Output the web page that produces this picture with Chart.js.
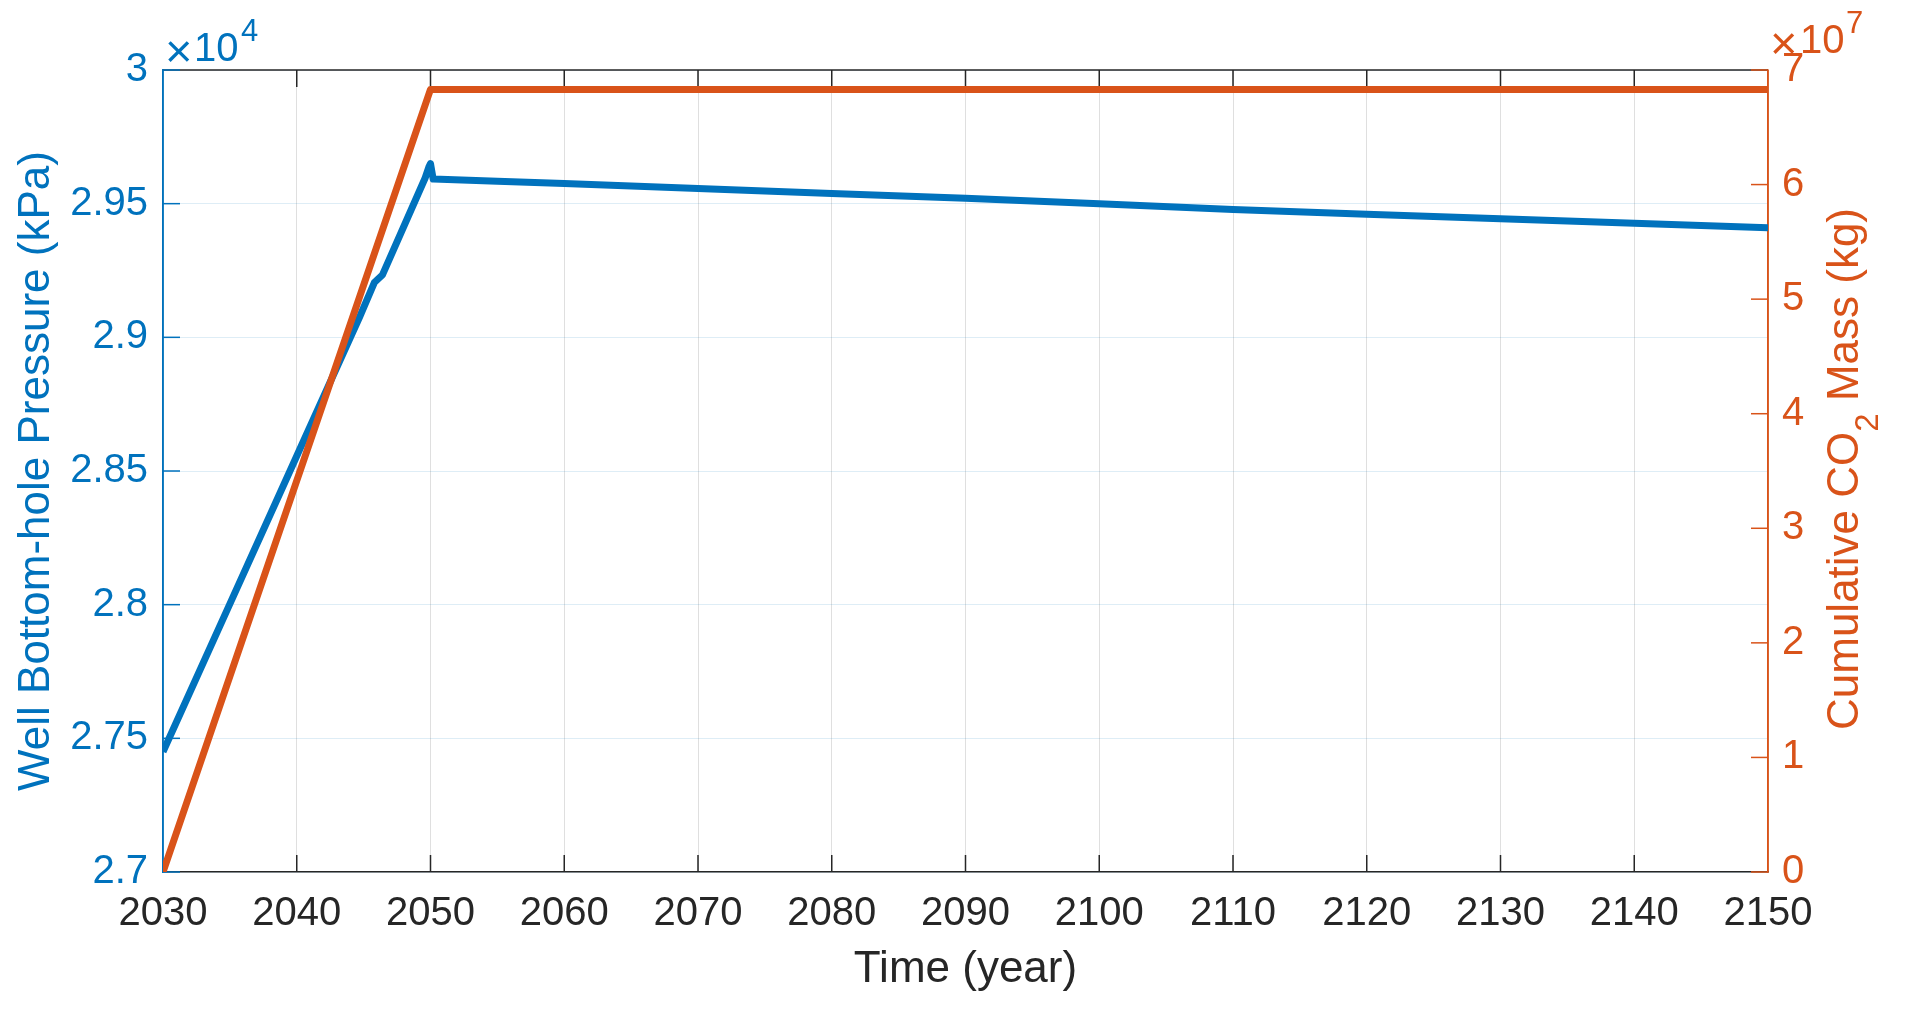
<!DOCTYPE html>
<html>
<head>
<meta charset="utf-8">
<title>Well Bottom-hole Pressure y Cumulative CO2 Mass</title>
<script src="https://cdn.jsdelivr.net/npm/chart.js@4.4.1/dist/chart.umd.min.js"></script>
<style>
    html, body { margin: 0; padding: 0; background: #fff; }
    #contenedor { width: 1908px; height: 1010px; position: relative; }
</style>
</head>
<body>
<div id="contenedor"><canvas id="miGrafico"></canvas></div>
<script>
// Datos
const pressureYears = [2030, 2035, 2040, 2044.7, 2045.8, 2046.4, 2049.6, 2049.9, 2050.0, 2050.2, 2055, 2060, 2070, 2080, 2090, 2100, 2110, 2120, 2130, 2140, 2150];
const pressureKPa = [27450, 28003, 28556, 29076, 29205, 29233, 29596, 29640, 29650, 29592, 29584, 29575, 29557, 29538, 29520, 29500, 29478, 29460, 29444, 29427, 29410];
const massYears = [2030, 2050, 2150];
const massKg = [0, 6.83e7, 6.83e7];

// Límites de los ejes
const xLimits = [2030, 2150];
const pressureLimits = [27000, 30000];
const massLimits = [0, 7e7];

const AZUL = '#0072BD';
const NARANJA = '#D95319';
const NEGRO = '#262626';
const FUENTE = '"Liberation Sans", Arial, sans-serif';

document.addEventListener('DOMContentLoaded', function() {
    initChart();
});

function toPoints(xs, ys) {
    return xs.map((x, i) => ({ x: x, y: ys[i] }));
}

// Ejes al estilo MATLAB: caja, marcas hacia dentro, exponentes
const ejesMatlab = {
    id: 'ejesMatlab',
    beforeDatasetsDraw(chart) {
        const { ctx, chartArea: a, scales } = chart;
        const largo = 17;
        ctx.save();
        ctx.lineWidth = 1.5;

        // marcas del eje x (abajo y arriba)
        ctx.strokeStyle = NEGRO;
        scales.x.ticks.forEach(t => {
            if (t.value === xLimits[0] || t.value === xLimits[1]) return;
            const px = scales.x.getPixelForValue(t.value);
            ctx.beginPath();
            ctx.moveTo(px, a.bottom); ctx.lineTo(px, a.bottom - largo);
            ctx.moveTo(px, a.top); ctx.lineTo(px, a.top + largo);
            ctx.stroke();
        });
        // línea superior
        ctx.beginPath();
        ctx.moveTo(a.left, a.top); ctx.lineTo(a.right, a.top);
        ctx.stroke();

        // eje izquierdo
        ctx.strokeStyle = AZUL;
        ctx.beginPath();
        ctx.moveTo(a.left, a.top); ctx.lineTo(a.left, a.bottom);
        ctx.stroke();
        scales.y.ticks.forEach(t => {
            const py = scales.y.getPixelForValue(t.value);
            ctx.beginPath();
            ctx.moveTo(a.left, py); ctx.lineTo(a.left + largo, py);
            ctx.stroke();
        });

        // eje derecho
        ctx.strokeStyle = NARANJA;
        ctx.beginPath();
        ctx.moveTo(a.right, a.top); ctx.lineTo(a.right, a.bottom);
        ctx.stroke();
        scales.y2.ticks.forEach(t => {
            const py = scales.y2.getPixelForValue(t.value);
            ctx.beginPath();
            ctx.moveTo(a.right, py); ctx.lineTo(a.right - largo, py);
            ctx.stroke();
        });
        ctx.restore();
    },
    afterDraw(chart) {
        const { ctx, chartArea: a } = chart;
        ctx.save();
        ctx.textAlign = 'left';
        ctx.textBaseline = 'alphabetic';

        // ×10^4 arriba a la izquierda
        ctx.fillStyle = AZUL;
        ctx.font = '47px ' + FUENTE;
        ctx.fillText('×', a.left + 2, 67);
        ctx.font = '40px ' + FUENTE;
        ctx.fillText('10', a.left + 31, 61);
        ctx.font = '31px ' + FUENTE;
        ctx.fillText('4', a.left + 78, 41);

        // ×10^7 arriba a la derecha
        ctx.fillStyle = NARANJA;
        ctx.font = '47px ' + FUENTE;
        ctx.fillText('×', a.right + 2, 59);
        ctx.font = '40px ' + FUENTE;
        ctx.fillText('10', a.right + 32, 53);
        ctx.font = '31px ' + FUENTE;
        ctx.fillText('7', a.right + 78, 33);

        // título del eje derecho, con subíndice
        const partes = [
            { t: 'Cumulative CO', f: '44px ' + FUENTE, dy: 0 },
            { t: '2', f: '33px ' + FUENTE, dy: 20 },
            { t: ' Mass (kg)', f: '44px ' + FUENTE, dy: 0 }
        ];
        let total = 0;
        partes.forEach(p => { ctx.font = p.f; p.w = ctx.measureText(p.t).width; total += p.w; });
        ctx.translate(1858, (a.top + a.bottom) / 2 - 2);
        ctx.rotate(-Math.PI / 2);
        let x = -total / 2;
        partes.forEach(p => {
            ctx.font = p.f;
            ctx.fillText(p.t, x, p.dy);
            x += p.w;
        });
        ctx.restore();
    }
};

function initChart() {
    Chart.defaults.font.family = FUENTE;
    const ctx = document.getElementById('miGrafico').getContext('2d');
    new Chart(ctx, {
        type: 'line',
        data: {
            datasets: [{
                label: 'Cumulative CO2 Mass',
                data: toPoints(massYears, massKg),
                yAxisID: 'y2',
                borderColor: NARANJA,
                borderWidth: 7,
                order: 0
            }, {
                label: 'Well Bottom-hole Pressure',
                data: toPoints(pressureYears, pressureKPa),
                yAxisID: 'y',
                borderColor: AZUL,
                borderWidth: 7,
                order: 1
            }]
        },
        options: {
            responsive: true,
            maintainAspectRatio: false,
            animation: false,
            devicePixelRatio: 1,
            layout: { padding: { top: 70, left: 0, right: 0, bottom: 0 } },
            elements: {
                point: { radius: 0 },
                line: { tension: 0, borderJoinStyle: 'round', borderCapStyle: 'butt' }
            },
            plugins: {
                legend: { display: false },
                tooltip: { enabled: false }
            },
            scales: {
                x: {
                    type: 'linear',
                    min: xLimits[0],
                    max: xLimits[1],
                    afterFit: s => { s.height = 138; },
                    ticks: {
                        stepSize: 10,
                        autoSkip: false,
                        maxRotation: 0,
                        padding: 18,
                        color: NEGRO,
                        font: { size: 40 },
                        callback: v => String(v)
                    },
                    grid: { color: 'rgba(38,38,38,0.15)', lineWidth: 1, drawTicks: false },
                    border: { display: true, color: NEGRO, width: 1.5 },
                    title: {
                        display: true,
                        text: 'Time (year)',
                        color: NEGRO,
                        font: { size: 44 },
                        padding: { top: 0, bottom: 14 }
                    }
                },
                y: {
                    position: 'left',
                    min: pressureLimits[0],
                    max: pressureLimits[1],
                    afterFit: s => { s.width = 163; },
                    ticks: {
                        stepSize: 500,
                        padding: 15,
                        color: AZUL,
                        font: { size: 40 },
                        callback: v => String(parseFloat((v / 1e4).toFixed(2)))
                    },
                    grid: { color: 'rgba(0,114,189,0.13)', lineWidth: 1, drawTicks: false },
                    border: { display: true, color: AZUL, width: 1.5 },
                    title: {
                        display: true,
                        text: 'Well Bottom-hole Pressure (kPa)',
                        color: AZUL,
                        font: { size: 44 },
                        padding: { top: 10, bottom: 0 }
                    }
                },
                y2: {
                    position: 'right',
                    min: massLimits[0],
                    max: massLimits[1],
                    afterFit: s => { s.width = 140; },
                    ticks: {
                        stepSize: 1e7,
                        padding: 14,
                        color: NARANJA,
                        font: { size: 40 },
                        callback: v => String(Math.round(v / 1e7))
                    },
                    grid: { drawOnChartArea: false, drawTicks: false },
                    border: { display: true, color: NARANJA, width: 1.5 }
                }
            }
        },
        plugins: [ejesMatlab]
    });
}
</script>
</body>
</html>
